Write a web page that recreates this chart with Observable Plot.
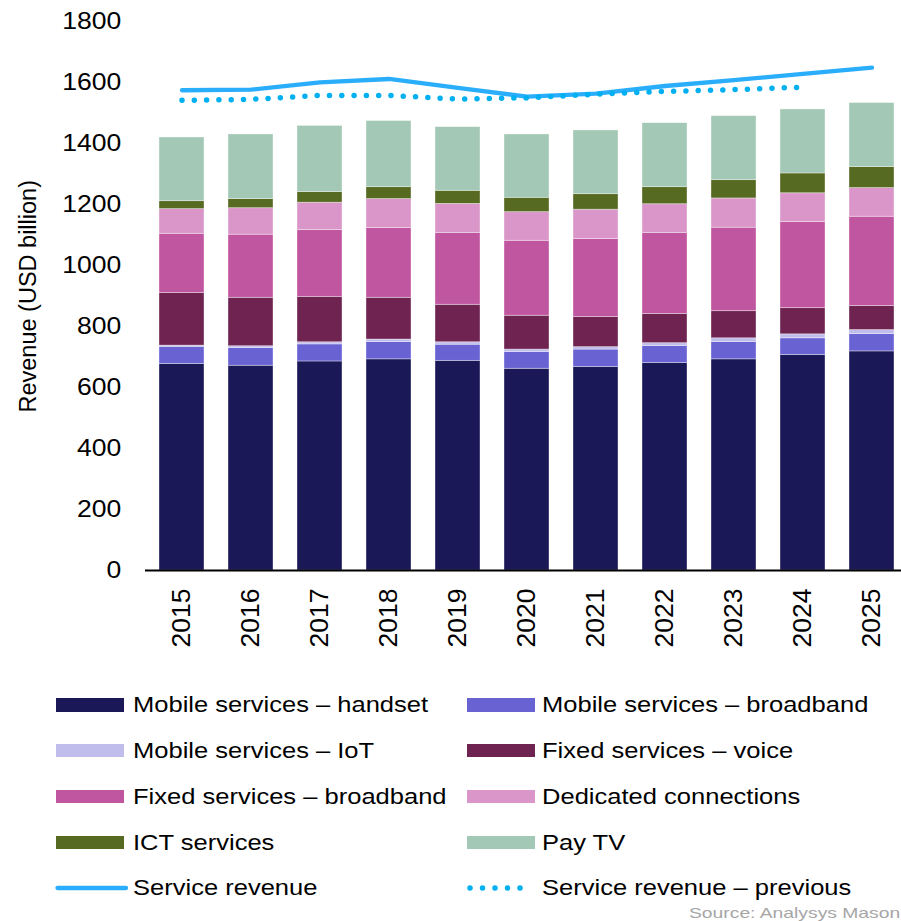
<!DOCTYPE html>
<html><head><meta charset="utf-8">
<script src="https://cdn.jsdelivr.net/npm/d3@7"></script>
<script src="https://cdn.jsdelivr.net/npm/@observablehq/plot@0.6"></script>
<style>
body{margin:0;background:#fff;}
#wrap{position:relative;width:901px;height:921px;overflow:hidden;font-family:"Liberation Sans",Arial,sans-serif;color:#000;background:#fff;}
#wrap svg.plot{position:absolute;left:0;top:0;}
.sw{position:absolute;height:13.4px;}
.lt{position:absolute;font-size:22.4px;line-height:1;white-space:nowrap;transform-origin:0 50%;transform:scaleX(1.14);}
.src{position:absolute;left:689px;top:906px;font-size:14.5px;line-height:1;white-space:nowrap;color:#a6a6a6;transform-origin:0 50%;transform:scaleX(1.33);}
</style></head><body><div id="wrap"></div>
<script>
// ---- data (USD billion) ----
const years = ["2015","2016","2017","2018","2019","2020","2021","2022","2023","2024","2025"];
const handset        = [678,672,686,693,688,662,668,681,693,707,719];
const mobileBroadband= [56,58,56,57,53,55,57,56,57,55,57];
const mobileIoT      = [4,6,7,8,8,8,8,9,12,13,13];
const fixedVoice     = [173,159,149,137,123,111,99,96,89,86,79];
const fixedBroadband = [194,207,219,229,236,246,256,266,274,283,293];
const dedicated      = [81,87,90,95,95,94,96,94,96,94,94];
const ictServices    = [26,30,35,39,43,47,51,56,60,65,69];
const payTV          = [209,212,217,217,209,208,209,210,210,210,210];
const serviceRevenue = [1576,1578,1602,1613,1584,1555,1565,1590,1609,1630,1650];
const previousRevenue= [1543,1546,1559,1559,1547,1551,1563,1572,1578,1586]; // 2015-2024
const yTicks = [0,200,400,600,800,1000,1200,1400,1600,1800];

const seriesNames = ["Mobile services – handset","Mobile services – broadband","Mobile services – IoT","Fixed services – voice","Fixed services – broadband","Dedicated connections","ICT services","Pay TV"];
const seriesColors = ["#1b1857","#6862d3","#c0bcec","#6f2350","#c056a0","#da96c8","#566a22","#a3c8b5"];
const seriesValues = [handset,mobileBroadband,mobileIoT,fixedVoice,fixedBroadband,dedicated,ictServices,payTV];
const lineNames = ["Service revenue","Service revenue – previous"];
const lineColors = ["#2aaefc","#00b0f0"];

const rows = [];
seriesNames.forEach((name,k)=>years.forEach((yr,i)=>rows.push({year:yr,series:name,value:seriesValues[k][i]})));
const svc = years.map((yr,i)=>({year:yr,value:serviceRevenue[i]}));
const prev = previousRevenue.map((v,i)=>({year:years[i],value:v}));

const FONT = '"Liberation Sans", Arial, sans-serif';
const chart = Plot.plot({
  width:901, height:680,
  marginTop:21.5, marginBottom:110, marginLeft:156.7, marginRight:3.5,
  style:{fontFamily:FONT, fontSize:"23px", color:"#000", background:"#fff"},
  x:{domain:years, type:"band", paddingInner:0.3425, paddingOuter:0, label:null},
  y:{domain:[0,1800], label:null},
  color:{domain:seriesNames, range:seriesColors},
  marks:[
    Plot.barY(rows,{x:"year", y:"value", fill:"series", stroke:"#ffffff", strokeOpacity:0.45, strokeWidth:0.8}),
    Plot.ruleY([0],{stroke:"#000", strokeWidth:2, insetLeft:-11.7, insetRight:-3.5}),
    Plot.line(svc,{x:"year", y:"value", stroke:lineColors[0], strokeWidth:4.3, strokeLinecap:"round", strokeLinejoin:"round"}),
    Plot.line(prev,{x:"year", y:"value", stroke:lineColors[1], strokeWidth:5.5, strokeDasharray:"0 12.3", strokeLinecap:"round"}),
    Plot.axisY({ticks:yTicks, tickFormat:d=>String(d), tickSize:0, tickPadding:36, fontSize:23.3, label:null}),
    Plot.axisX({tickSize:0, tickRotate:-90, tickPadding:18, fontSize:26.5, label:null}),
    Plot.text(["Revenue (USD billion)"],{frameAnchor:"left", dx:28-156.7, rotate:-90, textAnchor:"middle", fontSize:23.5})
  ]
});
chart.classList.add("plot");
const wrap = document.getElementById("wrap");
wrap.appendChild(chart);

// horizontal stretch of y tick labels, as in the reference
chart.querySelectorAll('g[aria-label="y-axis tick label"] text').forEach(t=>{
  const tr = t.getAttribute("transform");
  if (tr) t.setAttribute("transform", tr + " scale(1.14,1)");
  else {
    const x = +t.getAttribute("x")||0;
    t.setAttribute("transform", `translate(${x},0) scale(1.14,1)`);
    t.setAttribute("x", 0);
  }
});

// ---- legend ----
const rowC = [705,750.8,796.6,842.4,888.2];
const swX = [56,467], swW = [68,68], txX = [133,542];
const items = seriesNames.map((n,k)=>({name:n,color:seriesColors[k],kind:"bar"}))
  .concat([{name:lineNames[0],color:lineColors[0],kind:"solid"},{name:lineNames[1],color:lineColors[1],kind:"dot"}]);
items.forEach((it,k)=>{
  const col = k%2, r = Math.floor(k/2), c = rowC[r];
  if (it.kind==="bar"){
    const s = document.createElement("div");
    s.className="sw"; s.style.left=swX[col]+"px"; s.style.width=swW[col]+"px";
    s.style.top=(c-6.7)+"px"; s.style.background=it.color;
    wrap.appendChild(s);
  } else {
    const ns="http://www.w3.org/2000/svg";
    const sv=document.createElementNS(ns,"svg");
    sv.setAttribute("width",80); sv.setAttribute("height",12);
    sv.style.position="absolute"; sv.style.left=(swX[col]-4)+"px"; sv.style.top=(c-6)+"px";
    const ln=document.createElementNS(ns,"line");
    ln.setAttribute("x1",it.kind==="solid"?5.5:7); ln.setAttribute("x2",it.kind==="solid"?74:69.5);
    ln.setAttribute("y1",6); ln.setAttribute("y2",6);
    ln.setAttribute("stroke",it.color); ln.setAttribute("stroke-linecap","round");
    if (it.kind==="solid"){ ln.setAttribute("stroke-width",4.3); }
    else { ln.setAttribute("stroke-width",5.5); ln.setAttribute("stroke-dasharray","0 12.5"); }
    sv.appendChild(ln); wrap.appendChild(sv);
  }
  const t=document.createElement("div");
  t.className="lt"; t.textContent=it.name;
  t.style.left=txX[col]+"px"; t.style.top=(c-10.9)+"px";
  wrap.appendChild(t);
});
const src=document.createElement("div");
src.className="src"; src.textContent="Source: Analysys Mason";
wrap.appendChild(src);
</script>
</body></html>
